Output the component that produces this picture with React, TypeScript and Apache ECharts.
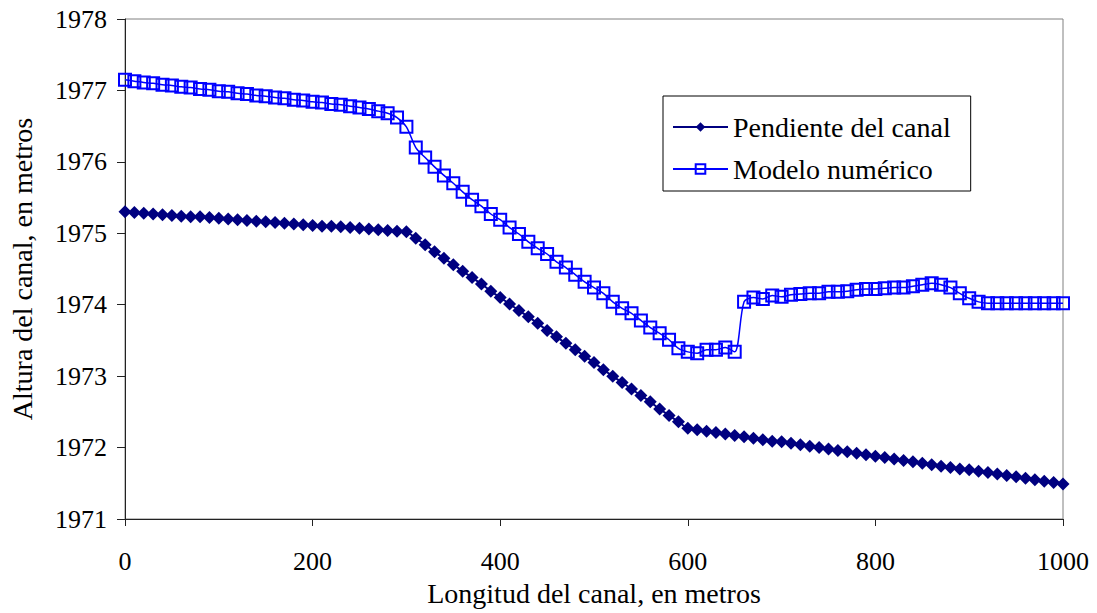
import React, { useEffect, useRef } from "react";
import * as echarts from "echarts";

const distances = [
  0, 10, 20, 30, 40, 50, 60, 70, 80, 90,
  100, 110, 120, 130, 140, 150, 160, 170, 180, 190,
  200, 210, 220, 230, 240, 250, 260, 270, 280, 290,
  300, 310, 320, 330, 340, 350, 360, 370, 380, 390,
  400, 410, 420, 430, 440, 450, 460, 470, 480, 490,
  500, 510, 520, 530, 540, 550, 560, 570, 580, 590,
  600, 610, 620, 630, 640, 650, 660, 670, 680, 690,
  700, 710, 720, 730, 740, 750, 760, 770, 780, 790,
  800, 810, 820, 830, 840, 850, 860, 870, 880, 890,
  900, 910, 920, 930, 940, 950, 960, 970, 980, 990,
  1000,
];

const pendienteCanal = [
  1975.30, 1975.29, 1975.28, 1975.27, 1975.26, 1975.25, 1975.24, 1975.23, 1975.23, 1975.22,
  1975.21, 1975.20, 1975.19, 1975.18, 1975.17, 1975.16, 1975.15, 1975.14, 1975.13, 1975.12,
  1975.11, 1975.10, 1975.10, 1975.09, 1975.08, 1975.07, 1975.06, 1975.05, 1975.04, 1975.03,
  1975.02, 1974.93, 1974.84, 1974.74, 1974.65, 1974.56, 1974.47, 1974.38, 1974.29, 1974.19,
  1974.10, 1974.01, 1973.92, 1973.83, 1973.74, 1973.64, 1973.55, 1973.46, 1973.37, 1973.28,
  1973.19, 1973.09, 1973.00, 1972.91, 1972.82, 1972.73, 1972.64, 1972.54, 1972.45, 1972.36,
  1972.27, 1972.25, 1972.23, 1972.21, 1972.19, 1972.17, 1972.15, 1972.13, 1972.11, 1972.09,
  1972.08, 1972.06, 1972.04, 1972.02, 1972.00, 1971.98, 1971.96, 1971.94, 1971.92, 1971.90,
  1971.88, 1971.86, 1971.84, 1971.82, 1971.80, 1971.78, 1971.76, 1971.74, 1971.72, 1971.70,
  1971.69, 1971.67, 1971.65, 1971.63, 1971.61, 1971.59, 1971.57, 1971.55, 1971.53, 1971.51,
  1971.49,
];

const modeloNumerico = [
  1977.15, 1977.13, 1977.11, 1977.10, 1977.08, 1977.07, 1977.05, 1977.04, 1977.02, 1977.01,
  1976.99, 1976.98, 1976.96, 1976.95, 1976.93, 1976.92, 1976.90, 1976.89, 1976.87, 1976.86,
  1976.84, 1976.83, 1976.81, 1976.80, 1976.78, 1976.76, 1976.74, 1976.71, 1976.68, 1976.62,
  1976.49, 1976.20, 1976.06, 1975.93, 1975.81, 1975.70, 1975.58, 1975.47, 1975.38, 1975.27,
  1975.19, 1975.08, 1974.99, 1974.88, 1974.79, 1974.71, 1974.60, 1974.52, 1974.42, 1974.32,
  1974.24, 1974.16, 1974.04, 1973.95, 1973.88, 1973.78, 1973.68, 1973.60, 1973.51, 1973.39,
  1973.34, 1973.32, 1973.37, 1973.37, 1973.40, 1973.34, 1974.04, 1974.10, 1974.08, 1974.13,
  1974.11, 1974.14, 1974.15, 1974.16, 1974.16, 1974.18, 1974.18, 1974.19, 1974.21, 1974.22,
  1974.22, 1974.23, 1974.24, 1974.24, 1974.26, 1974.28, 1974.30, 1974.28, 1974.24, 1974.16,
  1974.09, 1974.04, 1974.02, 1974.02, 1974.02, 1974.02, 1974.02, 1974.02, 1974.02, 1974.02,
  1974.02,
];

const xTicks = { min: 0, max: 1000, interval: 200 };
const yTicks = { min: 1971, max: 1978, interval: 1 };

const FONT = "Liberation Serif, Times New Roman, serif";

export default function App() {
  const ref = useRef<HTMLDivElement>(null);

  useEffect(() => {
    if (!ref.current) return;
    const chart = echarts.init(ref.current, undefined, { renderer: "svg" });
    const pairs = (ys: number[]) => distances.map((d, i) => [d, ys[i]]);
    chart.setOption({
      animation: false,
      backgroundColor: "#ffffff",
      textStyle: { fontFamily: FONT, color: "#000" },
      grid: {
        left: 125,
        right: 34,
        top: 19,
        bottom: 94,
        show: true,
        borderColor: "#808080",
        borderWidth: 1,
        backgroundColor: "transparent",
      },
      legend: {
        left: 663,
        top: 96,
        orient: "vertical",
        padding: [17, 20, 8, 9],
        itemGap: 14,
        itemWidth: 55,
        itemHeight: 12,
        borderColor: "#000",
        borderWidth: 1,
        backgroundColor: "#fff",
        textStyle: { fontFamily: FONT, fontSize: 28, color: "#000" },
        data: ["Pendiente del canal", "Modelo numérico"],
      },
      xAxis: {
        type: "value",
        min: xTicks.min,
        max: xTicks.max,
        interval: xTicks.interval,
        name: "Longitud del canal, en metros",
        nameLocation: "middle",
        nameGap: 60,
        nameTextStyle: { fontFamily: FONT, fontSize: 28, color: "#000" },
        axisLine: { show: true, onZero: false, lineStyle: { color: "#222", width: 1 } },
        axisTick: { show: true, inside: false, length: 7, lineStyle: { color: "#222" } },
        axisLabel: {
          fontFamily: FONT,
          fontSize: 26,
          color: "#000",
          margin: 29,
          formatter: (v: number) => String(v),
        },
        splitLine: { show: false },
      },
      yAxis: {
        type: "value",
        min: yTicks.min,
        max: yTicks.max,
        interval: yTicks.interval,
        name: "Altura del canal, en metros",
        nameLocation: "middle",
        nameGap: 89,
        nameTextStyle: { fontFamily: FONT, fontSize: 28, color: "#000" },
        axisLine: { show: true, onZero: false, lineStyle: { color: "#222", width: 1 } },
        axisTick: { show: true, inside: false, length: 8, lineStyle: { color: "#222" } },
        axisLabel: {
          fontFamily: FONT,
          fontSize: 26,
          color: "#000",
          margin: 18,
          formatter: (v: number) => String(v),
        },
        splitLine: { show: false },
      },
      series: [
        {
          name: "Pendiente del canal",
          type: "line",
          data: pairs(pendienteCanal),
          symbol: "diamond",
          symbolSize: [13, 13],
          showAllSymbol: true,
          smooth: 0.3,
          lineStyle: { color: "#000080", width: 2 },
          itemStyle: { color: "#000080", borderWidth: 0 },
          z: 2,
        },
        {
          name: "Modelo numérico",
          type: "line",
          data: pairs(modeloNumerico),
          symbol: "rect",
          symbolSize: [12, 12],
          showAllSymbol: true,
          smooth: 0.3,
          lineStyle: { color: "#0000ff", width: 1.5 },
          itemStyle: { color: "rgba(0,0,0,0)", borderColor: "#0000ff", borderWidth: 2 },
          z: 3,
        },
      ],
    });
    return () => chart.dispose();
  }, []);

  return (
    <div
      ref={ref}
      style={{ position: "fixed", left: 0, top: 0, width: 1097, height: 613, background: "#fff" }}
    />
  );
}
